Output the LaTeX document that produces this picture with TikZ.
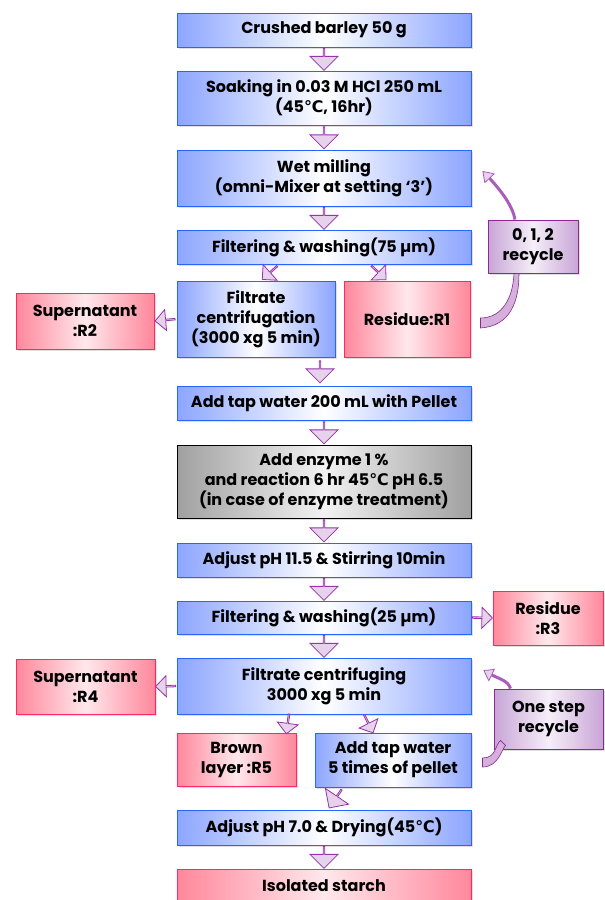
\documentclass[tikz,border=0pt]{standalone}
\usepackage{fontspec}
\setmainfont{Poppins}
\newfontfamily\symfont{DejaVu Sans}
\usetikzlibrary{shapes.arrows,shadows,arrows.meta,bending}

\definecolor{blueline}{RGB}{40,100,255}
\definecolor{blueedge}{RGB}{140,165,255}
\definecolor{redline}{RGB}{255,40,100}
\definecolor{rededge}{RGB}{255,135,155}
\definecolor{redmid}{RGB}{255,232,236}
\definecolor{grayedge}{RGB}{160,160,160}
\definecolor{graymid}{RGB}{242,242,242}
\definecolor{recline}{RGB}{140,40,150}
\definecolor{recedge}{RGB}{200,165,215}
\definecolor{recmid}{RGB}{245,238,248}
\definecolor{arrline}{RGB}{150,50,170}
\definecolor{arrfill}{RGB}{230,210,235}

\newcommand{\degC}{{\symfont ℃}}

\tikzset{
  box/.style={draw, line width=0.9pt, inner sep=0pt, align=center,
    font=\fontsize{16}{20}\selectfont\bfseries,
    drop shadow={opacity=0.25, shadow xshift=2pt, shadow yshift=-2pt}},
  bluebox/.style={box, draw=blueline, left color=blueedge, right color=blueedge, middle color=white},
  redbox/.style={box, draw=redline, left color=rededge, right color=rededge, middle color=redmid},
  graybox/.style={box, draw=black, left color=grayedge, right color=grayedge, middle color=graymid},
  recbox/.style={box, draw=recline, left color=recedge, right color=recedge, middle color=recmid},
  wide/.style={minimum width=294pt},
  blockarr/.style={single arrow, draw=arrline, line width=0.8pt, fill=arrfill,
    minimum height=22pt, minimum width=28pt, single arrow head extend=7pt,
    inner sep=0pt, sloped, allow upside down},
  sidearr/.style={blockarr, minimum height=20pt, minimum width=21pt, single arrow head extend=5pt},
  recband/.style={fill=arrfill!80!recline, draw=recline, line width=0.6pt},
  recup/.style={draw=arrline!80, line width=3pt,
    -{Triangle[width=14pt, length=10pt, line width=0.8pt, fill=arrfill, bend]}}
}

\begin{document}
\begin{tikzpicture}[x=1pt, y=1pt]
  \useasboundingbox (0,0) rectangle (605,-900);

  % main column
  \node[bluebox, wide, minimum height=34pt] (barley) at (324,-30) {Crushed barley 50 g};
  \node[bluebox, wide, minimum height=54pt] (soak) at (324,-98) {Soaking in 0.03 M HCl 250 mL\\(45\degC, 16hr)};
  \node[bluebox, wide, minimum height=56pt] (wet) at (324,-178) {Wet milling\\(omni-Mixer at setting ‘3’)};
  \node[bluebox, wide, minimum height=34pt] (filt75) at (324,-247) {Filtering \& washing(75 µm)};
  \node[bluebox, minimum width=158pt, minimum height=76pt] (cent1) at (256,-319) {Filtrate\\centrifugation\\(3000 xg 5 min)};
  \node[redbox, minimum width=126pt, minimum height=76pt] (res1) at (407,-319) {Residue:R1};
  \node[redbox, minimum width=138pt, minimum height=56pt] (sup2) at (85,-321) {Supernatant\\:R2};
  \node[recbox, minimum width=90pt, minimum height=53pt] (rec1) at (533,-246.5) {0, 1, 2\\recycle};
  \node[bluebox, wide, minimum height=34pt] (tap1) at (324,-403) {Add tap water 200 mL with Pellet};
  \node[graybox, wide, minimum height=73pt] (enz) at (324,-481.5) {Add enzyme 1 \%\\and reaction 6 hr 45\degC\ pH 6.5\\(in case of enzyme treatment)};
  \node[bluebox, wide, minimum height=34pt] (ph115) at (324,-560) {Adjust pH 11.5 \& Stirring 10min};
  \node[bluebox, wide, minimum height=33pt] (filt25) at (324,-617.5) {Filtering \& washing(25 µm)};
  \node[redbox, minimum width=110pt, minimum height=54pt] (res3) at (548,-618) {Residue\\:R3};
  \node[bluebox, wide, minimum height=56pt] (cent2) at (324,-686) {Filtrate centrifuging\\3000 xg 5 min};
  \node[redbox, minimum width=139pt, minimum height=55pt] (sup4) at (85.5,-686.5) {Supernatant\\:R4};
  \node[recbox, minimum width=109pt, minimum height=60pt] (rec2) at (548.5,-719) {One step\\recycle};
  \node[redbox, minimum width=119pt, minimum height=53pt] (brown) at (236.5,-759.5) {Brown\\layer :R5};
  \node[bluebox, minimum width=156pt, minimum height=54pt] (tap2) at (393,-760) {Add tap water\\5 times of pellet};
  \node[bluebox, wide, minimum height=35pt] (ph70) at (324,-827.5) {Adjust pH 7.0 \& Drying(45\degC)};
  \node[redbox, wide, minimum height=34pt] (starch) at (324,-886) {Isolated starch};

  % block arrows
  \path (barley) -- node[blockarr] {} (soak);
  \path (soak) -- node[blockarr] {} (wet);
  \path (wet) -- node[blockarr] {} (filt75);
  \path ([xshift=-45pt]filt75.south) -- node[sidearr] {} ([xshift=5pt]cent1.north);
  \path ([xshift=46pt]filt75.south) -- node[sidearr] {} ([xshift=-20pt]res1.north);
  \path (cent1.west) -- node[sidearr] {} (sup2.east);
  \path ([xshift=64pt]cent1.south) -- node[blockarr] {} ([xshift=-4pt]tap1.north);
  \path (tap1) -- node[blockarr] {} (enz);
  \path (enz) -- node[blockarr] {} (ph115);
  \path (ph115) -- node[blockarr] {} (filt25);
  \path (filt25.east) -- node[sidearr] {} (res3.west);
  \path (filt25) -- node[blockarr] {} (cent2);
  \path (cent2.west) -- node[sidearr] {} (sup4.east);
  \path ([xshift=-35pt]cent2.south) -- node[sidearr] {} ([xshift=50pt]brown.north);
  \path ([xshift=40pt]cent2.south) -- node[sidearr] {} ([xshift=-20pt]tap2.north);
  \path ([xshift=-50pt]tap2.south) -- node[blockarr] {} ([xshift=4pt]ph70.north);
  \path (ph70) -- node[blockarr] {} (starch);

  % recycle loops
  \path[recband] ([shift={(10,-9)}]res1.east) .. controls +(30,2) and +(0,-28) .. ([xshift=-14pt]rec1.south)
    -- ([xshift=-19pt]rec1.south) .. controls +(-1,-24) and +(22,0) .. ([shift={(10,1)}]res1.east) -- cycle;
  \draw[recup] ([xshift=-18pt]rec1.north) .. controls +(-3,18) and +(10,-10) .. ([shift={(11,7)}]wet.east);
  \path[recband] ([shift={(11,-7)}]tap2.east) .. controls +(16,0) and +(-4,-4) .. ([shift={(12,4)}]rec2.south west)
    -- ([shift={(7,9)}]rec2.south west) .. controls +(-6,-5) and +(14,0) .. ([shift={(11,2)}]tap2.east) -- cycle;
  \draw[recup] ([xshift=-38pt]rec2.north) .. controls +(-3,10) and +(10,-8) .. ([shift={(12,16)}]cent2.east);
\end{tikzpicture}
\end{document}
